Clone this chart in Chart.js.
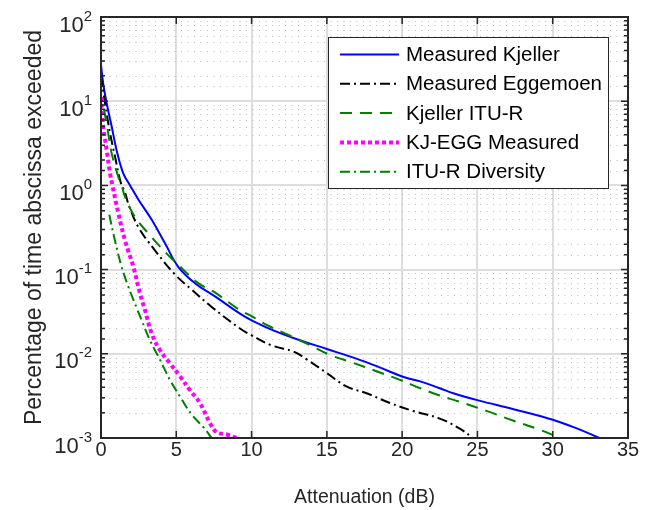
<!DOCTYPE html>
<html>
<head>
<meta charset="utf-8">
<script src="https://cdn.jsdelivr.net/npm/chart.js@4.4.0/dist/chart.umd.min.js"></script>
<style>
  html, body { margin: 0; padding: 0; background: #fff; }
</style>
</head>
<body>
<canvas id="chart" width="652" height="510"></canvas>
<script>
// attenuation (dB) vs percentage of time exceeded
var kjellerX = [0, 0.15, 0.38, 0.71, 1.04, 1.48, 1.93, 2.48, 3.37, 4.25, 5.13, 6.24, 7.57, 9.23, 10.0, 11.44, 13.2, 15.0, 17.0, 18.5, 20.1, 21.2, 22.5, 23.4, 25.05, 27.4, 30.0, 31.6, 33.1];
var kjellerY = [27, 16, 9.4, 5.0, 2.6, 1.39, 1.0, 0.68, 0.39, 0.205, 0.108, 0.069, 0.048, 0.030, 0.025, 0.019, 0.0145, 0.0114, 0.0087, 0.0069, 0.0053, 0.0047, 0.0039, 0.0034, 0.0028, 0.0022, 0.00165, 0.0013, 0.001];

var eggemoenX = [0, 0.27, 0.6, 0.93, 1.3, 1.6, 1.85, 2.48, 3.47, 4.9, 6.02, 7.35, 9.23, 10.0, 11.33, 12.8, 13.66, 15.0, 16.3, 17.64, 19.2, 20.7, 22.5, 23.8, 24.7];
var eggemoenY = [20, 9.4, 4.2, 2.2, 1.1, 0.82, 0.58, 0.32, 0.18, 0.088, 0.058, 0.036, 0.020, 0.0166, 0.0126, 0.0106, 0.0086, 0.0059, 0.0041, 0.0034, 0.0026, 0.0021, 0.0017, 0.0013, 0.001];

var kjellerItuX = [0.2, 0.44, 0.71, 1.15, 1.37, 1.6, 2.26, 3.14, 4.36, 5.13, 6.46, 7.46, 9.23, 10.0, 11.0, 12.5, 13.9, 15.2, 16.75, 18.3, 19.85, 21.2, 22.5, 23.8, 25.6, 27.4, 28.9, 30.5];
var kjellerItuY = [8, 4.6, 2.4, 1.26, 1.0, 0.73, 0.42, 0.27, 0.155, 0.114, 0.069, 0.055, 0.033, 0.028, 0.022, 0.0166, 0.0126, 0.0097, 0.0078, 0.0062, 0.0049, 0.0039, 0.0032, 0.0027, 0.0021, 0.0016, 0.0013, 0.001];

var kjEggX = [0, 0.05, 0.15, 0.38, 0.6, 0.76, 1.15, 1.6, 2.15, 2.59, 2.9, 3.37, 3.92, 4.58, 5.25, 5.91, 6.57, 7.24, 7.68, 8.35, 9.0];
var kjEggY = [11.2, 7.9, 5.0, 2.6, 1.4, 1.0, 0.47, 0.22, 0.108, 0.052, 0.034, 0.0174, 0.011, 0.0077, 0.0054, 0.0037, 0.0026, 0.0015, 0.00117, 0.0011, 0.001];

var diversityX = [0.55, 0.93, 1.37, 1.81, 2.37, 2.7, 3.25, 3.92, 4.58, 5.25, 6.02, 6.79, 7.35];
var diversityY = [0.45, 0.22, 0.108, 0.063, 0.035, 0.025, 0.0145, 0.0085, 0.0049, 0.0031, 0.0019, 0.00135, 0.001];

var seriesNames = ['Measured Kjeller', 'Measured Eggemoen', 'Kjeller ITU-R', 'KJ-EGG Measured', 'ITU-R Diversity'];
var xMin = 0, xMax = 35, xStep = 5;
var yMin = 1e-3, yMax = 1e2;

var FONT = '"Liberation Sans", Arial, Helvetica, sans-serif';
var INK = '#262626';

function points(xs, ys)
{
    return xs.map(function (x, i) { return {x: x, y: ys[i]}; });
}

function isMajor(v)
{
    var l = Math.log10(v);
    return Math.abs(l - Math.round(l)) < 1e-6;
}

function series(i, xs, ys, color, width, dash)
{
    return {
        label: seriesNames[i],
        data: points(xs, ys),
        borderColor: color,
        borderWidth: width,
        borderDash: dash,
        borderCapStyle: 'butt',
        borderJoinStyle: 'round',
        pointRadius: 0,
        fill: false,
        tension: 0.4,
        order: seriesNames.length - i
    };
}

// legend box placement (pixels)
var legendBox = {x: 328, y: 37, w: 280, h: 151, row0: 54.5, rowStep: 29.3, line0: 340, line1: 399, text: 406};

var frame = {
    id: 'frame',
    beforeDatasetsDraw: function (chart)
    {
        var ctx = chart.ctx, a = chart.chartArea, ys = chart.scales.y;
        ctx.save();
        ctx.strokeStyle = '#bdbdbd';
        ctx.lineWidth = 1;
        ctx.setLineDash([1, 5.5]);
        ys.ticks.forEach(function (t) {
            if (isMajor(t.value)) return;
            var py = Math.round(ys.getPixelForValue(t.value)) + 0.5;
            ctx.beginPath();
            ctx.moveTo(a.left + 2, py);
            ctx.lineTo(a.right - 2, py);
            ctx.stroke();
        });
        ctx.restore();
    },
    afterDraw: function (chart)
    {
        var ctx = chart.ctx, a = chart.chartArea, xs = chart.scales.x, ys = chart.scales.y;
        ctx.save();

        // inward ticks on all four sides
        ctx.strokeStyle = INK;
        ctx.lineWidth = 1.5;
        ctx.setLineDash([]);
        xs.ticks.forEach(function (t) {
            var px = xs.getPixelForValue(t.value);
            ctx.beginPath();
            ctx.moveTo(px, a.bottom); ctx.lineTo(px, a.bottom - 7);
            ctx.moveTo(px, a.top); ctx.lineTo(px, a.top + 7);
            ctx.stroke();
        });
        ys.ticks.forEach(function (t) {
            var py = ys.getPixelForValue(t.value);
            var len = isMajor(t.value) ? 7 : 4;
            ctx.beginPath();
            ctx.moveTo(a.left, py); ctx.lineTo(a.left + len, py);
            ctx.moveTo(a.right, py); ctx.lineTo(a.right - len, py);
            ctx.stroke();
        });

        // axes box
        ctx.lineWidth = 2;
        ctx.strokeRect(a.left, a.top, a.right - a.left, a.bottom - a.top);

        // y tick labels as 10 with raised exponent
        ctx.fillStyle = INK;
        ctx.textBaseline = 'alphabetic';
        ys.ticks.forEach(function (t) {
            if (!isMajor(t.value)) return;
            var py = ys.getPixelForValue(t.value);
            var exp = String(Math.round(Math.log10(t.value)));
            var right = a.left - 9;
            ctx.font = '15px ' + FONT;
            ctx.textAlign = 'right';
            ctx.fillText(exp, right, py + 3.5);
            var ew = ctx.measureText(exp).width;
            ctx.font = '22px ' + FONT;
            ctx.fillText('10', right - ew, py + 14.5);
        });

        // legend
        var L = legendBox;
        ctx.fillStyle = '#ffffff';
        ctx.fillRect(L.x, L.y, L.w, L.h);
        ctx.strokeStyle = INK;
        ctx.lineWidth = 1;
        ctx.strokeRect(L.x + 0.5, L.y + 0.5, L.w, L.h);
        chart.data.datasets.forEach(function (ds, i) {
            var ry = L.row0 + i * L.rowStep;
            ctx.strokeStyle = ds.borderColor;
            ctx.lineWidth = ds.borderWidth;
            ctx.setLineDash(ds.borderDash || []);
            ctx.beginPath();
            ctx.moveTo(L.line0, ry);
            ctx.lineTo(L.line1, ry);
            ctx.stroke();
            ctx.setLineDash([]);
            ctx.fillStyle = '#000000';
            ctx.font = '20.5px ' + FONT;
            ctx.textAlign = 'left';
            ctx.textBaseline = 'middle';
            ctx.fillText(ds.label, L.text, ry + 1);
        });
        ctx.restore();
    }
};

var ctx = document.getElementById('chart').getContext('2d');
new Chart(ctx, {
    type: 'line',
    data: {
        datasets: [
            series(0, kjellerX, kjellerY, '#0000ff', 2, []),
            series(1, eggemoenX, eggemoenY, '#000000', 2, [10, 4, 2, 4]),
            series(2, kjellerItuX, kjellerItuY, '#008000', 2, [12, 8]),
            series(3, kjEggX, kjEggY, '#ff00ff', 4, [4, 3]),
            series(4, diversityX, diversityY, '#008000', 2, [10, 4, 2, 4])
        ]
    },
    options: {
        responsive: false,
        animation: false,
        devicePixelRatio: 1,
        layout: { padding: { left: 0, top: 17, right: 24, bottom: 0 } },
        plugins: { legend: { display: false }, tooltip: { enabled: false } },
        scales: {
            x: {
                type: 'linear', min: xMin, max: xMax,
                afterFit: function (s) { s.height = 72; },
                ticks: { stepSize: xStep, color: INK, font: { family: FONT, size: 20 }, padding: 0, maxRotation: 0 },
                grid: { color: '#dedede', lineWidth: 2, drawTicks: false },
                border: { display: false },
                title: { display: true, text: 'Attenuation (dB)', color: INK, font: { family: FONT, size: 19.5 }, padding: { top: 0, bottom: 1 } }
            },
            y: {
                type: 'logarithmic', min: yMin, max: yMax,
                afterFit: function (s) { s.width = 101; },
                ticks: { autoSkip: false, callback: function () { return ''; } },
                grid: {
                    color: function (c) { return c.tick && isMajor(c.tick.value) ? '#dedede' : 'rgba(0,0,0,0)'; },
                    lineWidth: 2, drawTicks: false
                },
                border: { display: false },
                title: { display: true, text: 'Percentage of time abscissa exceeded', color: INK, font: { family: FONT, size: 23 }, padding: { top: 21, bottom: 0 } }
            }
        }
    },
    plugins: [frame]
});
</script>
</body>
</html>
